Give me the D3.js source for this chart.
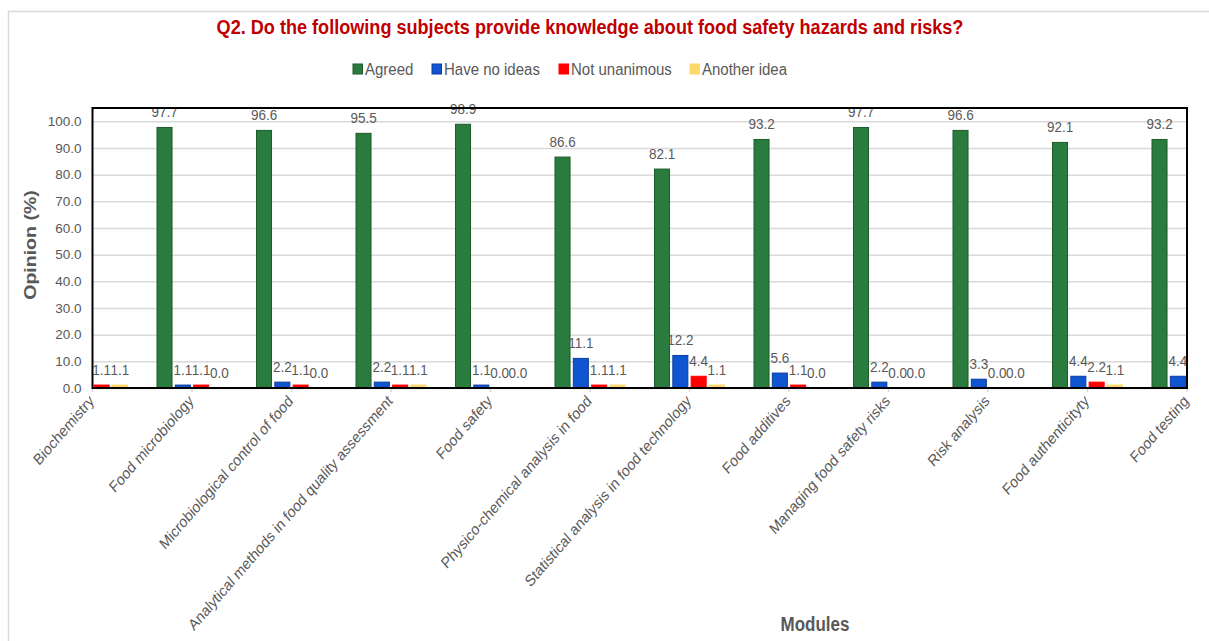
<!DOCTYPE html>
<html>
<head>
<meta charset="utf-8">
<script src="https://cdn.jsdelivr.net/npm/d3@7"></script>
<style>
  html, body { margin: 0; padding: 0; background: #ffffff; }
  svg { display: block; font-family: "Liberation Sans", Arial, sans-serif; }
</style>
</head>
<body>
<svg id="chart" width="1209" height="641"></svg>
<script>
// Survey modules (category axis)
const categories = [
  "Biochemistry",
  "Food microbiology",
  "Microbiological control of food",
  "Analytical methods in food quality assessment",
  "Food safety",
  "Physico-chemical analysis in food",
  "Statistical analysis in food technology",
  "Food additives",
  "Managing food safety risks",
  "Risk analysis",
  "Food authenticityty",
  "Food testing"
];

const seriesNames = ["Agreed", "Have no ideas", "Not unanimous", "Another idea"];

// Percentages per module, one array per answer
const agreed       = [97.8, 97.7, 96.6, 95.5, 98.9, 86.6, 82.1, 93.2, 97.7, 96.6, 92.1, 93.2];
const haveNoIdeas  = [0.0, 1.1, 2.2, 2.2, 1.1, 11.1, 12.2, 5.6, 2.2, 3.3, 4.4, 4.4];
const notUnanimous = [1.1, 1.1, 1.1, 1.1, 0.0, 1.1, 4.4, 1.1, 0.0, 0.0, 2.2, 1.1];
const anotherIdea  = [1.1, 0.0, 0.0, 1.1, 0.0, 1.1, 1.1, 0.0, 0.0, 0.0, 1.1, 1.1];

const yTicks = [0, 10, 20, 30, 40, 50, 60, 70, 80, 90, 100];

const seriesValues = [agreed, haveNoIdeas, notUnanimous, anotherIdea];
const fills   = ["#2a7b3e", "#0f55d2", "#ff0000", "#fdd86a"];
const strokes = ["#1d5a2c", "#0a3d9c", "#ff0000", "#fdd86a"];

const rows = categories.map((c, i) => ({
  category: c,
  values: seriesNames.map((s, k) => ({ series: s, k, value: seriesValues[k][i] }))
}));

const svg = d3.select("#chart");
const W = 1209, H = 641;
const stretch = 1.15;   // text is drawn a little taller than wide

// Plot frame
const plot = { left: 92.5, right: 1187, top: 108, bottom: 388 };
const step = (plot.right - plot.left) / (categories.length - 1);

// Outer chart border
svg.append("rect")
  .attr("x", 8.5).attr("y", 11.5)
  .attr("width", W + 20).attr("height", H + 20)
  .attr("fill", "#ffffff").attr("stroke", "#d9d9d9").attr("stroke-width", 1.5);

// Categories sit on the tick marks, so the first and last groups are half outside the frame
const x = d3.scaleBand()
  .domain(categories)
  .range([plot.left - step / 2, plot.right + step / 2])
  .paddingInner(0).paddingOuter(0);

const xInner = d3.scaleBand()
  .domain(seriesNames)
  .range([-35, 35])
  .paddingInner(0.18);

const y = d3.scaleLinear().domain([0, 105]).range([plot.bottom, plot.top]);

const defs = svg.append("defs");
defs.append("clipPath").attr("id", "plotClip")
  .append("rect")
  .attr("x", plot.left).attr("y", plot.top)
  .attr("width", plot.right - plot.left).attr("height", plot.bottom - plot.top);

// Gridlines
svg.append("g")
  .attr("transform", `translate(${plot.left},0)`)
  .call(d3.axisLeft(y).tickValues(yTicks).tickSize(-(plot.right - plot.left)).tickFormat(""))
  .call(g => g.select(".domain").remove())
  .call(g => g.selectAll("line").attr("stroke", "#d9d9d9").attr("stroke-width", 1.5));

// Y tick labels
svg.append("g")
  .attr("transform", `translate(${plot.left},0)`)
  .call(d3.axisLeft(y).tickValues(yTicks).tickSize(0).tickPadding(11).tickFormat(d3.format(".1f")))
  .call(g => g.select(".domain").remove())
  .call(g => g.selectAll("text")
    .attr("fill", "#595959")
    .style("font-size", "13.5px")
    .style("font-family", "'Liberation Sans', Arial, sans-serif"));

// Bars
const groups = svg.append("g").attr("clip-path", "url(#plotClip)")
  .selectAll("g.grp")
  .data(rows)
  .join("g")
  .attr("class", "grp")
  .attr("transform", d => `translate(${x(d.category) + x.bandwidth() / 2},0)`);

groups.selectAll("rect")
  .data(d => d.values)
  .join("rect")
  .attr("x", d => xInner(d.series))
  .attr("width", xInner.bandwidth())
  .attr("y", d => y(d.value))
  .attr("height", d => y(0) - y(d.value))
  .attr("fill", d => fills[d.k])
  .attr("stroke", d => strokes[d.k])
  .attr("stroke-width", 1);

// Data labels, only for bars whose centre lies inside the frame
const labelData = [];
rows.forEach(r => r.values.forEach(v => {
  const cx = x(r.category) + x.bandwidth() / 2 + xInner(v.series) + xInner.bandwidth() / 2;
  if (cx >= plot.left && cx <= plot.right) labelData.push({ cx, value: v.value });
}));

svg.append("g").selectAll("text")
  .data(labelData)
  .join("text")
  .attr("transform", d => `translate(${d.cx},${y(d.value) - 10}) scale(1,${stretch})`)
  .attr("text-anchor", "middle")
  .attr("fill", "#595959")
  .style("font-size", "13.5px")
  .text(d => d3.format(".1f")(d.value));

// X axis: ticks at category centres
const centres = categories.map(c => x(c) + x.bandwidth() / 2);
svg.append("g").selectAll("line")
  .data(centres)
  .join("line")
  .attr("x1", d => d).attr("x2", d => d)
  .attr("y1", plot.bottom).attr("y2", plot.bottom + 4)
  .attr("stroke", "#d9d9d9").attr("stroke-width", 1.5);

svg.append("g").selectAll("text")
  .data(categories)
  .join("text")
  .attr("transform", c => `translate(${x(c) + x.bandwidth() / 2 - 1},398) scale(1,${stretch}) rotate(-45)`)
  .attr("text-anchor", "end")
  .attr("dy", "0.35em")
  .attr("fill", "#595959")
  .style("font-size", "13.8px")
  .text(c => c);

// Plot frame on top
svg.append("rect")
  .attr("x", plot.left).attr("y", plot.top)
  .attr("width", plot.right - plot.left).attr("height", plot.bottom - plot.top)
  .attr("fill", "none").attr("stroke", "#000000").attr("stroke-width", 2);

// Title
svg.append("text")
  .attr("transform", `translate(590,34) scale(1,1.08)`)
  .attr("text-anchor", "middle")
  .attr("fill", "#c00000")
  .style("font-size", "18.1px")
  .style("font-weight", "bold")
  .text("Q2. Do the following subjects provide knowledge about food safety hazards and risks?");

// Legend
const legendX = [353, 432, 559, 690];
const legend = svg.append("g").selectAll("g")
  .data(seriesNames)
  .join("g")
  .attr("transform", (d, i) => `translate(${legendX[i]},69)`);
legend.append("rect")
  .attr("x", 0).attr("y", -5).attr("width", 9.5).attr("height", 10)
  .attr("fill", (d, i) => fills[i]).attr("stroke", (d, i) => strokes[i]).attr("stroke-width", 1);
legend.append("text")
  .attr("x", 12).attr("dy", "0.35em")
  .attr("transform", `scale(1,1.08)`)
  .attr("fill", "#595959")
  .style("font-size", "15px")
  .text(d => d);

// Axis titles
svg.append("text")
  .attr("transform", `translate(30,245) scale(1,${stretch}) rotate(-90)`)
  .attr("text-anchor", "middle").attr("dy", "0.35em")
  .attr("fill", "#595959")
  .style("font-size", "17px").style("font-weight", "bold")
  .text("Opinion (%)");

svg.append("text")
  .attr("transform", `translate(815,631) scale(1,${stretch})`)
  .attr("text-anchor", "middle")
  .attr("fill", "#595959")
  .style("font-size", "17px").style("font-weight", "bold")
  .text("Modules");
</script>
</body>
</html>
